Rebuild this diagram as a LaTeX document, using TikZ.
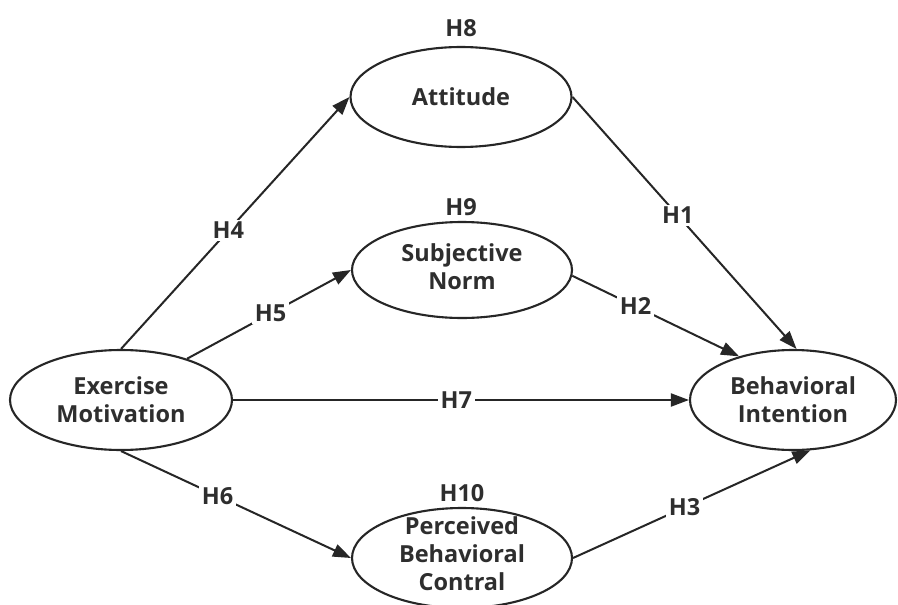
\documentclass[tikz,border=0pt]{standalone}
\usepackage{fontspec}
\setmainfont{Open Sans}
\usetikzlibrary{shapes.geometric,arrows.meta}
\definecolor{ink}{HTML}{262626}
\definecolor{txt}{HTML}{2E2E2E}
\begin{document}
\begin{tikzpicture}[x=1pt,y=-1pt,
  oval/.style n args={2}{ellipse, draw=ink, line width=2.1pt, inner sep=0pt,
    minimum width=#1, minimum height=#2},
  lbl/.style={font=\fontsize{23.5}{28}\selectfont\bfseries, text=txt, align=center, inner sep=0pt},
  hl/.style={font=\fontsize{23.5}{28}\selectfont\bfseries, text=txt, fill=white, inner sep=2.5pt},
  conn/.style={draw=ink, line width=2pt, -{Triangle[length=18pt,width=13pt]}}]
\clip (0,0) rectangle (898,605);
\fill[white] (0,0) rectangle (898,605);
% ovals
\node[oval={221pt}{100pt}] (att) at (461,97) {};
\node[oval={220pt}{96pt}] (sub) at (462,270) {};
\node[oval={222pt}{100pt}] (ex) at (121,400) {};
\node[oval={206pt}{100pt}] (beh) at (793,400) {};
\node[oval={220pt}{100pt}] (perc) at (462,558) {};
% texts
\node[lbl] (tatt) at (att.center) {Attitude};
\node[lbl] (tsub) at ([yshift=3pt]sub.center) {Subjective\\Norm};
\node[lbl] (tex) at (ex.center) {Exercise\\Motivation};
\node[lbl] (tbeh) at (beh.center) {Behavioral\\Intention};
\node[lbl] (tperc) at ([yshift=4pt]perc.center) {Perceived\\Behavioral\\Contral};
% H labels above
\node[lbl] (h8) at (461,28) {H8};
\node[lbl] (h9) at (461,207) {H9};
\node[lbl] (h10) at (462,493) {H10};
% connectors
\draw[conn] (ex.north) -- node[hl,pos=0.47] (h4) {H4} (att.west);
\draw[conn] (ex.32) -- node[hl,pos=0.51] (h5) {H5} (sub.west);
\draw[conn] (ex.east) -- node[hl,pos=0.49] (h7) {H7} (beh.west);
\draw[conn] (ex.south) -- node[hl,pos=0.42] (h6) {H6} (perc.west);
\draw[conn] (att.east) -- node[hl,pos=0.47] (h1) {H1} (beh.86);
\draw[conn] (sub.-3) -- node[hl,pos=0.38] (h2) {H2} (beh.141);
\draw[conn] (perc.east) -- node[hl,pos=0.47] (h3) {H3} (beh.-71);
\end{tikzpicture}
\end{document}
